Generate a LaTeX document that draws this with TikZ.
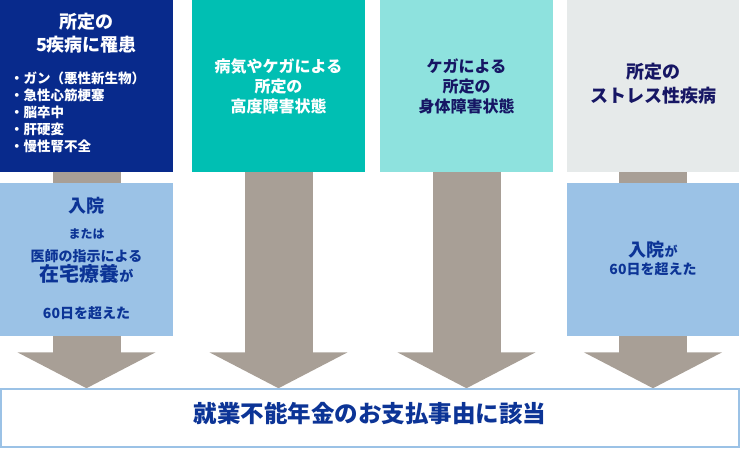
\documentclass[tikz,border=0pt]{standalone}
\usepackage{fontspec}
\setmainfont{Noto Sans CJK JP}
\usetikzlibrary{arrows.meta,backgrounds}

\definecolor{navyfill}{RGB}{8,42,140}
\definecolor{tealfill}{RGB}{0,191,179}
\definecolor{aquafill}{RGB}{142,226,222}
\definecolor{greyfill}{RGB}{230,234,234}
\definecolor{palefill}{RGB}{155,194,230}
\definecolor{arrowgray}{RGB}{168,159,150}
\definecolor{textblue}{RGB}{12,52,150}
\definecolor{textnavy}{RGB}{22,22,100}

\newcommand{\fs}[2]{\fontsize{#1}{#2}\selectfont}

\begin{document}
\begin{tikzpicture}[x=1pt,y=-1pt,font=\bfseries,
  mybox/.style={rectangle, inner sep=0pt, minimum width=173pt, minimum height=172pt},
  mybox1/.style={rectangle, inner sep=0pt, fill=palefill, minimum width=173pt, minimum height=153pt},
  mybox2/.style={rectangle, draw=palefill, line width=1.5pt, fill=white, inner sep=0pt, minimum width=738pt, minimum height=58pt},
  myt/.style={align=center, inner sep=0pt},
  myarrow/.style={draw=arrowgray, line width=68pt, -{Triangle[width=137pt,length=36pt]}}]
  \useasboundingbox (0,0) rectangle (740,448);

  % top row
  \node[mybox, fill=navyfill] (a) at (86.5,86) {};
  \node[mybox, fill=tealfill] (b) at (278.5,86) {};
  \node[mybox, fill=aquafill] (c) at (466.5,86) {};
  \node[mybox, fill=greyfill, minimum width=172pt] (d) at (653,86) {};

  % second row
  \node[mybox1] (e) at (86.5,259.5) {};
  \node[mybox1, minimum width=172pt] (f) at (653,259.5) {};

  % result
  \node[mybox2] (r) at (370,418) {};

  % texts
  \node[myt, white, font=\bfseries\fs{18}{23}] (a1) at (86.5,33.5) {所定の\\5疾病に罹患};
  \node[myt, white, align=left, anchor=north west, font=\bfseries\fs{13.5}{17}] (a2) at (10,72)
    {・ガン（悪性新生物）\\・急性心筋梗塞\\・脳卒中\\・肝硬変\\・慢性腎不全};
  \node[myt, white, font=\bfseries\fs{16}{20}] (b1) at (b) {病気やケガによる\\所定の\\高度障害状態};
  \node[myt, textnavy, font=\bfseries\fs{16}{20}] (c1) at (c) {ケガによる\\所定の\\身体障害状態};
  \node[myt, textnavy, font=\bfseries\fs{18}{24}] (d1) at (653,84) {所定の\\ストレス性疾病};

  \node[myt, textblue, font=\bfseries\fs{18}{20}] (e1) at (86.5,206) {入院};
  \node[myt, textblue, font=\bfseries\fs{12}{14}] (e2) at (86.5,234) {または};
  \node[myt, textblue, font=\bfseries\fs{14}{18}] (e3) at (86.5,256) {医師の指示による};
  \node[myt, textblue, font=\bfseries\fs{20}{22}] (e4) at (86.5,274) {在宅療養{\fs{14}{16}が}};
  \node[myt, textblue, font=\bfseries\fs{14}{18}] (e5) at (86.5,313) {60日を超えた};

  \node[myt, textblue, font=\bfseries\fs{18}{20}] (f1) at (653,250) {入院{\fs{13}{16}が}};
  \node[myt, textblue, font=\bfseries\fs{14}{18}] (f2) at (653,269) {60日を超えた};

  \node[myt, textblue, font=\bfseries\fs{23.5}{26}] (r1) at (370,414) {就業不能年金のお支払事由に該当};

  % arrows
  \begin{scope}[on background layer]
    \draw[myarrow] (a) -- (a |- r.north);
    \draw[myarrow] (b) -- (b |- r.north);
    \draw[myarrow] (c) -- (c |- r.north);
    \draw[myarrow] (d) -- (d |- r.north);
  \end{scope}

\end{tikzpicture}
\end{document}
